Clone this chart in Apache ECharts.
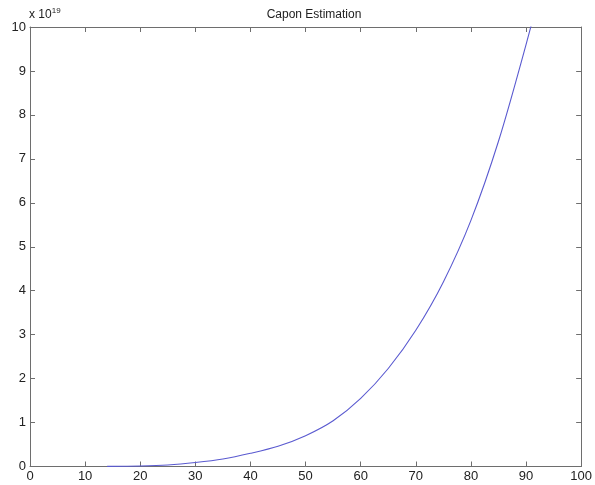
<!DOCTYPE html>
<html>
<head>
<meta charset="utf-8">
<script src="https://cdn.jsdelivr.net/npm/echarts@6/dist/echarts.min.js"></script>
<style>
html,body{margin:0;padding:0;background:#fff;}
#c{width:595px;height:485px;}
</style>
</head>
<body>
<div id="c"></div>
<script>
// Data (y in units of 1e19)
var xValues = [14, 20, 25, 30, 35, 40, 45, 50, 55, 60, 65, 70, 75, 80, 85, 90, 95];
var yValues = [0.003, 0.012, 0.035, 0.09, 0.17, 0.30, 0.46, 0.70, 1.04, 1.55, 2.23, 3.1, 4.2, 5.6, 7.4, 9.6, 12.0];
var xTicks = [0, 10, 20, 30, 40, 50, 60, 70, 80, 90, 100];
var yTicks = [0, 1, 2, 3, 4, 5, 6, 7, 8, 9, 10];
var titleText = 'Capon Estimation';
var exponentBase = 'x 10';
var exponentPower = '19';

var chart = echarts.init(document.getElementById('c'), null, {renderer: 'canvas'});
var axisColor = '#6e6e6e';
var labelFont = {color: '#222', fontSize: 13, fontFamily: 'Liberation Sans, Arial, sans-serif'};
var pts = xValues.map(function (x, i) { return [x, yValues[i]]; });

chart.setOption({
  backgroundColor: '#ffffff',
  animation: false,
  title: {
    text: titleText,
    left: 309, top: 4, textAlign: 'center',
    textStyle: {fontSize: 12, fontWeight: 'normal', color: '#222', fontFamily: 'Liberation Sans, Arial, sans-serif'}
  },
  grid: {left: 30, right: 7, top: 27, bottom: 18.5, containLabel: false, show: false},
  xAxis: [{
    type: 'value', min: xTicks[0], max: xTicks[xTicks.length - 1], interval: 10,
    position: 'bottom',
    axisLine: {show: true, onZero: false, lineStyle: {color: axisColor, width: 1}},
    axisTick: {show: true, inside: true, length: 5, lineStyle: {color: axisColor}},
    axisLabel: Object.assign({margin: 3}, labelFont),
    splitLine: {show: false}
  }, {
    type: 'value', min: xTicks[0], max: xTicks[xTicks.length - 1], interval: 10,
    position: 'top',
    axisLine: {show: true, onZero: false, lineStyle: {color: axisColor, width: 1}},
    axisTick: {show: true, inside: true, length: 5, lineStyle: {color: axisColor}},
    axisLabel: {show: false},
    splitLine: {show: false}
  }],
  yAxis: [{
    type: 'value', min: yTicks[0], max: yTicks[yTicks.length - 1], interval: 1,
    position: 'left',
    axisLine: {show: true, onZero: false, lineStyle: {color: axisColor, width: 1}},
    axisTick: {show: true, inside: true, length: 5, lineStyle: {color: axisColor}},
    axisLabel: Object.assign({margin: 4}, labelFont),
    splitLine: {show: false}
  }, {
    type: 'value', min: yTicks[0], max: yTicks[yTicks.length - 1], interval: 1,
    position: 'right',
    axisLine: {show: true, onZero: false, lineStyle: {color: axisColor, width: 1}},
    axisTick: {show: true, inside: true, length: 5, lineStyle: {color: axisColor}},
    axisLabel: {show: false},
    splitLine: {show: false}
  }],
  graphic: [{
    type: 'text', left: 29, top: 7,
    style: {
      text: '{b|' + exponentBase + '}{s|' + exponentPower + '}',
      rich: {
        b: {fontSize: 12, fill: '#222', fontFamily: 'Liberation Sans, Arial, sans-serif'},
        s: {fontSize: 8, fill: '#222', verticalAlign: 'top', padding: [0, 0, 8, 0], fontFamily: 'Liberation Sans, Arial, sans-serif'}
      }
    }
  }],
  series: [{
    type: 'line', data: pts, smooth: 0.3, showSymbol: false, clip: true,
    xAxisIndex: 0, yAxisIndex: 0,
    lineStyle: {color: '#5a5ad0', width: 1.1}
  }]
});
</script>
</body>
</html>
